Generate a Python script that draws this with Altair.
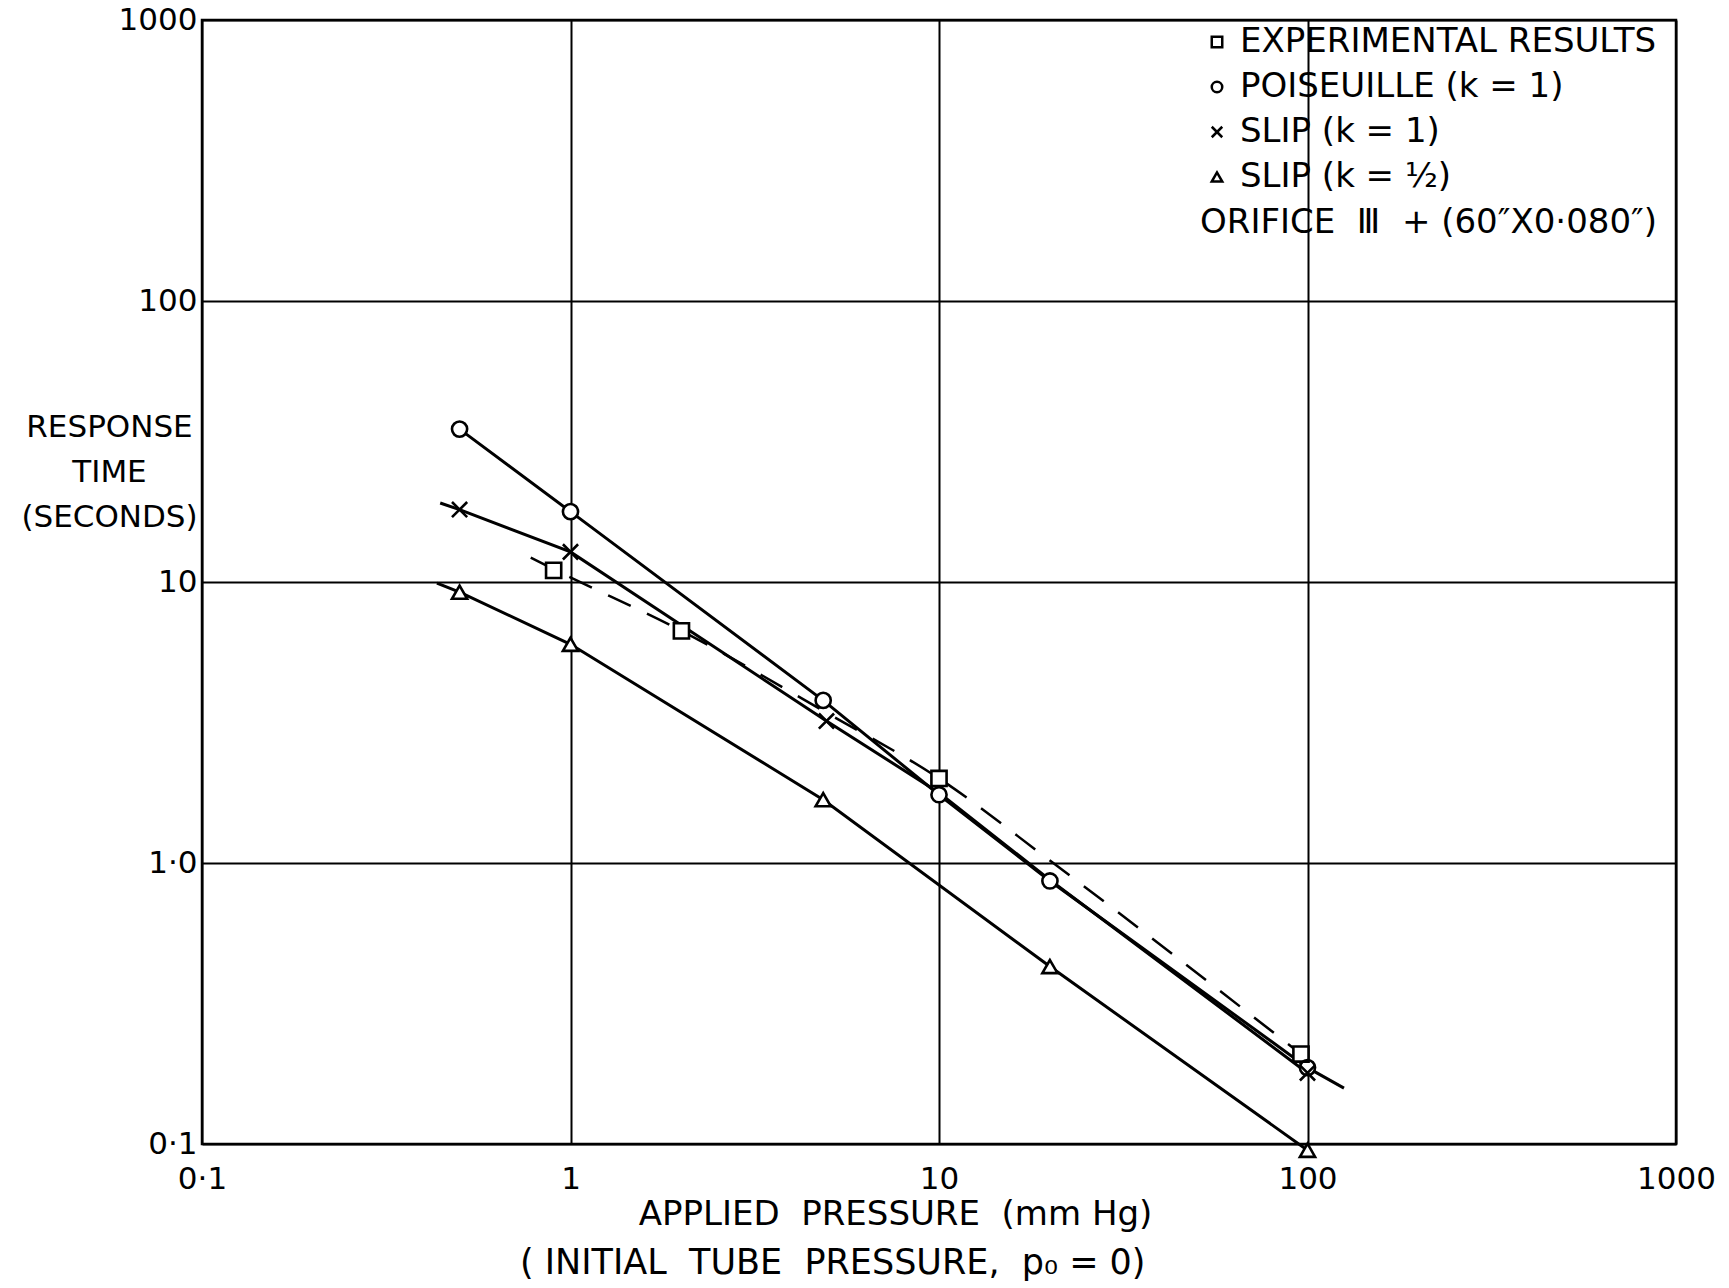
import altair as alt
import pandas as pd

FONT = "DejaVu Sans"
NB = "\u00a0"

SERIES = ["EXPERIMENTAL RESULTS", "POISEUILLE (k = 1)", "SLIP (k = 1)", "SLIP (k = ½)"]
SHAPES = ["square", "circle", "M-1,-1L1,1M-1,1L1,-1", "triangle-up"]

# plotted markers (applied pressure mm Hg, response time s)
exp_x = [0.9, 2.0, 10.0, 96.0]
exp_y = [11.0, 6.7, 2.0, 0.209]
pois_x = [0.5, 1.0, 4.85, 10.0, 20.0, 100.0]
pois_y = [35.0, 17.8, 3.79, 1.75, 0.863, 0.187]
slip1_x = [0.5, 1.0, 4.95, 100.0]
slip1_y = [18.1, 12.8, 3.2, 0.179]
sliph_x = [0.5, 1.0, 4.85, 20.0, 100.0]
sliph_y = [9.2, 6.0, 1.68, 0.428, 0.095]

# drawn curves
exp_curve_x = [0.78, 0.9, 2.0, 5.0, 10.0, 20.0, 96.0]
exp_curve_y = [12.2, 11.1, 6.7, 3.4, 2.0, 1.02, 0.209]
pois_curve_x = [0.5, 1.0, 4.85, 10.0, 20.0, 100.0, 125.6]
pois_curve_y = [35.0, 17.8, 3.79, 1.75, 0.863, 0.187, 0.158]
slip1_curve_x = [0.443, 0.5, 1.0, 4.95, 10.0, 20.0, 100.0]
slip1_curve_y = [19.1, 18.1, 12.8, 3.2, 1.78, 0.87, 0.179]
sliph_curve_x = [0.434, 0.5, 1.0, 4.85, 20.0, 100.0]
sliph_curve_y = [9.9, 9.2, 6.0, 1.68, 0.428, 0.095]

tick_values = [0.1, 1, 10, 100, 1000]

def frame(xs, ys, name):
    return pd.DataFrame({"x": xs, "y": ys, "series": name})

points = pd.concat([
    frame(exp_x, exp_y, SERIES[0]),
    frame(pois_x, pois_y, SERIES[1]),
    frame(slip1_x, slip1_y, SERIES[2]),
    frame(sliph_x, sliph_y, SERIES[3]),
])
points["series_bg"] = points["series"]
solid = pd.concat([
    frame(pois_curve_x, pois_curve_y, SERIES[1]),
    frame(slip1_curve_x, slip1_curve_y, SERIES[2]),
    frame(sliph_curve_x, sliph_curve_y, SERIES[3]),
])
dashed = frame(exp_curve_x, exp_curve_y, SERIES[0])

x_enc = alt.X(
    "x:Q",
    scale=alt.Scale(type="log", domain=[0.1, 1000], nice=False),
    axis=alt.Axis(
        values=tick_values,
        labelExpr="datum.value < 0.5 ? '0·1' : datum.value < 5 ? '1' : datum.value < 50 ? '10' : datum.value < 500 ? '100' : '1000'",
        labelPadding=20,
        labelFlush=False,
        title=f"APPLIED{NB} PRESSURE{NB} (mm Hg)",
        titleX=693,
        titleY=70,
        titleAlign="center",
        titleBaseline="middle",
        titleFontSize=34,
    ),
)
y_enc = alt.Y(
    "y:Q",
    scale=alt.Scale(type="log", domain=[0.1, 1000], nice=False),
    axis=alt.Axis(
        values=tick_values,
        labelExpr="datum.value < 0.5 ? '0·1' : datum.value < 5 ? '1·0' : datum.value < 50 ? '10' : datum.value < 500 ? '100' : '1000'",
        labelPadding=5,
        labelFlush=False,
        title=["RESPONSE", "TIME", "(SECONDS)"],
        titleAngle=0,
        titleX=-93,
        titleY=407,
        titleAlign="center",
        titleBaseline="middle",
        titleLineHeight=45,
        titleFontSize=31,
    ),
)

solid_layer = alt.Chart(solid).mark_line(
    color="black", strokeWidth=3
).encode(x=x_enc, y=y_enc, detail="series:N")

dashed_layer = alt.Chart(dashed).mark_line(
    color="black", strokeWidth=2.5, interpolate="monotone", strokeDash=[25, 18]
).encode(x=x_enc, y=y_enc)

# white fill behind each marker so the curves do not show through
bg_layer = alt.Chart(points).mark_point(
    filled=True, color="white", opacity=1, size=230
).encode(
    x=x_enc,
    y=y_enc,
    shape=alt.Shape("series_bg:N", scale=alt.Scale(domain=SERIES, range=SHAPES), legend=None),
)

point_layer = alt.Chart(points).mark_point(
    filled=False, color="black", strokeWidth=2.6, opacity=1, size=230
).encode(
    x=x_enc,
    y=y_enc,
    shape=alt.Shape(
        "series:N",
        scale=alt.Scale(domain=SERIES, range=SHAPES),
        legend=alt.Legend(
            orient="none",
            legendX=998,
            legendY=5,
            title=f"ORIFICE{NB} Ⅲ{NB} + (60″X0·080″)",
            titleOrient="bottom",
            titleAnchor="start",
            titleFont=FONT,
            titleFontSize=34,
            titleFontWeight="normal",
            titleColor="black",
            titlePadding=12,
            titleLimit=0,
            labelFont=FONT,
            labelFontSize=34,
            labelColor="black",
            labelOffset=6,
            labelLimit=0,
            rowPadding=11,
            symbolSize=110,
            symbolStrokeWidth=2.5,
            symbolStrokeColor="black",
            padding=0,
        ),
    ),
)

chart = alt.layer(solid_layer, dashed_layer, bg_layer, point_layer).resolve_scale(
    shape="independent"
).properties(
    width=1474,
    height=1124,
    background="white",
    autosize=alt.AutoSizeParams(type="none"),
    padding={"left": 202, "top": 20, "right": 53, "bottom": 144},
    title=alt.TitleParams(
        text=f"({NB}INITIAL{NB} TUBE{NB} PRESSURE,{NB} p₀ = 0)",
        orient="bottom",
        anchor="start",
        frame="group",
        dx=318,
        offset=15,
        font=FONT,
        fontSize=35,
        fontWeight="normal",
        color="black",
    ),
).configure_view(
    stroke="black", strokeWidth=2.5
).configure_axis(
    grid=True,
    gridColor="black",
    gridWidth=2,
    gridOpacity=1,
    ticks=False,
    domain=False,
    labelFont=FONT,
    labelFontSize=31,
    labelColor="black",
    titleFont=FONT,
    titleFontWeight="normal",
    titleColor="black",
)

chart.save("out.html", embed_options={"renderer": "svg", "actions": False})
